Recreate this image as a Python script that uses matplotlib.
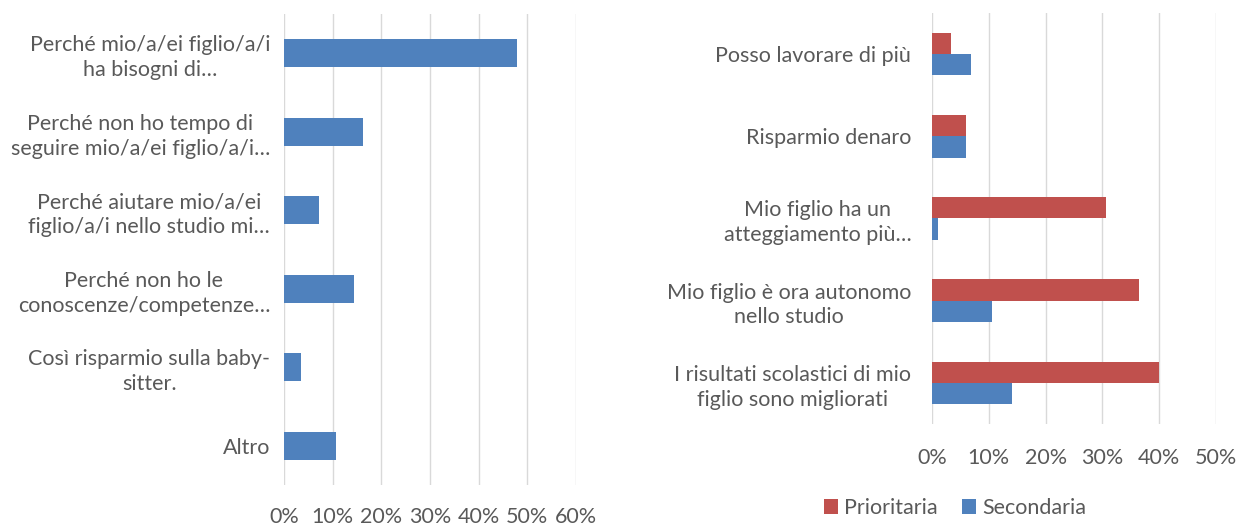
import matplotlib.pyplot as plt
import numpy as np

plt.rcParams['font.family'] = ['Lato', 'DejaVu Sans']

left_labels = [
    "Perché mio/a/ei figlio/a/i\nha bisogni di…",
    "Perché non ho tempo di\nseguire mio/a/ei figlio/a/i…",
    "Perché aiutare mio/a/ei\nfiglio/a/i nello studio mi…",
    "Perché non ho le\nconoscenze/competenze…",
    "Così risparmio sulla baby-\nsitter.",
    "Altro",
]
left_values = [47.8, 16.2, 7.2, 14.3, 3.5, 10.6]

right_labels = [
    "Posso lavorare di più",
    "Risparmio denaro",
    "Mio figlio ha un\natteggiamento più…",
    "Mio figlio è ora autonomo\nnello studio",
    "I risultati scolastici di mio\nfiglio sono migliorati",
]
prioritaria = [3.4, 5.9, 30.6, 36.4, 40.0]
secondaria = [6.9, 5.9, 1.1, 10.6, 14.1]

BLUE = '#4F81BD'
RED = '#C0504D'
GRID = '#D9D9D9'
TEXT = '#595959'
FS = 15.5

fig = plt.figure(figsize=(12.41, 5.25), dpi=100)

# left chart
ax1 = fig.add_axes([284 / 1241, 1 - 485 / 525, 292 / 1241, 471 / 525])
y = np.arange(len(left_labels))
ax1.barh(y, left_values, height=0.36, color=BLUE, zorder=3)
ax1.set_ylim(len(left_labels) - 0.5, -0.5)
ax1.set_xlim(0, 60)
ax1.set_xticks(np.arange(0, 61, 10))
ax1.set_xticklabels([f"{v}%" for v in range(0, 61, 10)])
ax1.set_yticks(y)
ax1.set_yticklabels(left_labels, multialignment='center', linespacing=1.3)

# right chart
ax2 = fig.add_axes([932 / 1241, 1 - 424 / 525, 284 / 1241, 411 / 525])
y2 = np.arange(len(right_labels))
h = 0.26
ax2.barh(y2 - h / 2, prioritaria, height=h, color=RED, zorder=3, label='Prioritaria')
ax2.barh(y2 + h / 2, secondaria, height=h, color=BLUE, zorder=3, label='Secondaria')
ax2.set_ylim(len(right_labels) - 0.5, -0.5)
ax2.set_xlim(0, 50)
ax2.set_xticks(np.arange(0, 51, 10))
ax2.set_xticklabels([f"{v}%" for v in range(0, 51, 10)])
ax2.set_yticks(y2)
ax2.set_yticklabels(right_labels, multialignment='center', linespacing=1.3)

for ax in (ax1, ax2):
    for s in ax.spines.values():
        s.set_visible(False)
    ax.grid(axis='x', color=GRID, linewidth=1, zorder=0)
    ax.tick_params(axis='both', length=0, labelsize=FS, colors=TEXT)

ax1.tick_params(axis='y', pad=10)
ax1.tick_params(axis='x', pad=16)
ax2.tick_params(axis='y', pad=15)
ax2.tick_params(axis='x', pad=17)

leg = ax2.legend(loc='center', bbox_to_anchor=(955 / 1241, 1 - 508 / 525),
                 bbox_transform=fig.transFigure, ncol=2, frameon=False,
                 fontsize=FS, handlelength=0.65, handleheight=0.65,
                 handletextpad=0.3, columnspacing=1.1)
for t in leg.get_texts():
    t.set_color(TEXT)

fig.savefig('out.png', dpi=100)
